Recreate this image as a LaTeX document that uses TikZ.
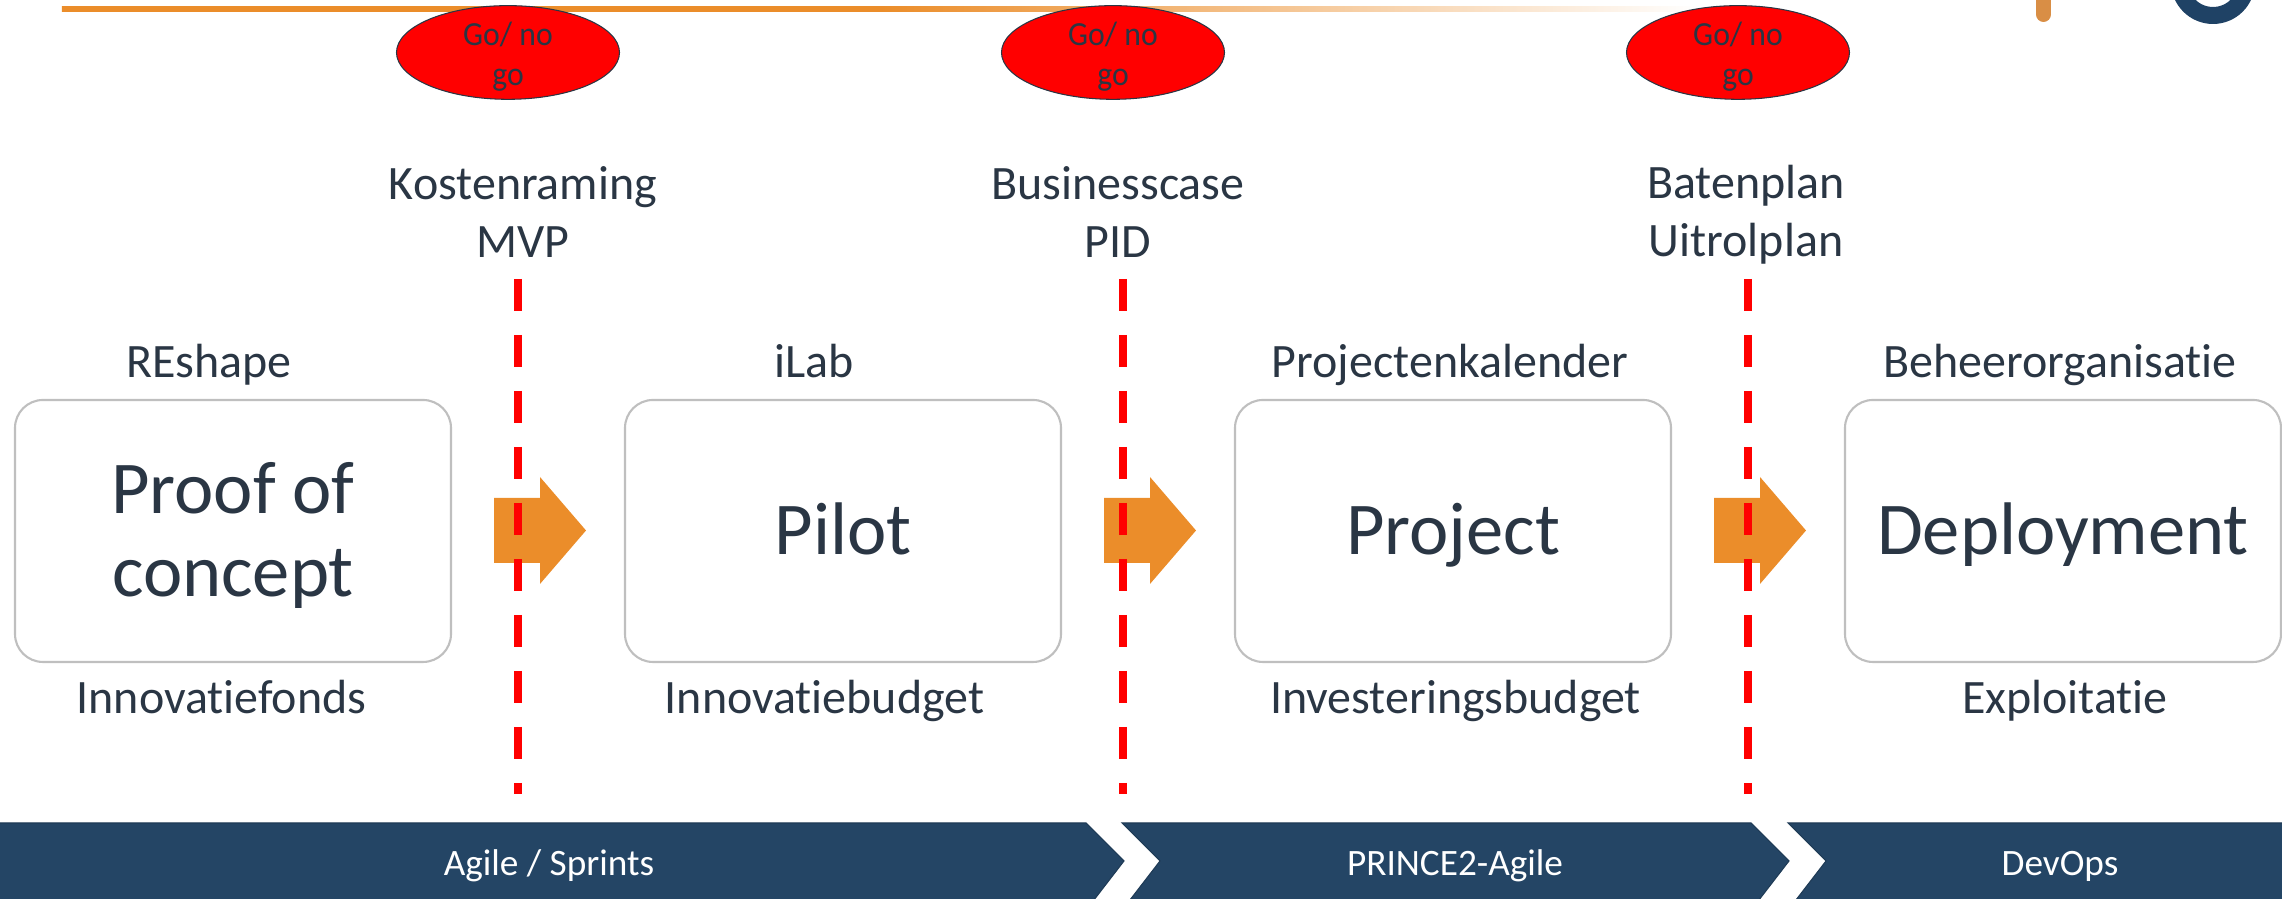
\documentclass[tikz,border=0pt]{standalone}
\usepackage{fontspec}
\setmainfont[Ligatures=NoCommon]{Carlito}
\newfontfamily\gatefont[Ligatures=NoCommon,FakeStretch=0.94]{Carlito}
\usepackage{tikz}
\usetikzlibrary{shapes.geometric}
\definecolor{textdark}{HTML}{2A3644}
\definecolor{lineorange}{HTML}{EB8D2A}
\definecolor{barblue}{HTML}{244565}
\definecolor{boxgray}{HTML}{BFBFBF}
\definecolor{logoorange}{HTML}{D98E45}
\definecolor{logoblue}{HTML}{1F4265}
\pgfdeclarehorizontalshading{topfade}{100bp}{color(0bp)=(lineorange); color(25bp)=(lineorange); color(50bp)=(lineorange); color(75bp)=(white); color(100bp)=(white)}

\begin{document}
\begin{tikzpicture}
[phasebox/.style={draw=boxgray,line width=0.6pt,fill=white,rounded corners=0.28cm,minimum width=4.36cm,minimum height=2.62cm,inner sep=0pt,align=center,text=textdark,font=\fontsize{21.2}{23.6}\selectfont},
onelinebox/.style={phasebox,text height=17pt,text depth=3.6pt},
smalltext/.style={text=textdark,anchor=base,inner sep=0pt,font=\fontsize{13.65}{16.2}\selectfont},
doctext/.style={text=textdark,inner sep=0pt,align=center,font=\fontsize{13.65}{16.4}\selectfont},
gatenode/.style={ellipse,draw=textdark,line width=0.3pt,fill=red,minimum width=2.23cm,minimum height=0.91cm,inner sep=-1.5pt,align=center,text=textdark,font=\gatefont\fontsize{9.6}{11.2}\selectfont},
bartext/.style={text=white,inner sep=0pt,font=\fontsize{10.6}{12}\selectfont},
orangearrow/.style={fill=lineorange},
redline/.style={red,line width=0.08cm,dash pattern=on 0.32cm off 0.24cm},
barshape/.style={fill=barblue,draw=barblue!85!black,line width=0.3pt}]

\clip (0,0) rectangle (22.82,8.99);

% top line
\shade[shading=topfade] (0.62,8.87) rectangle (17,8.92);

% logo
\draw[logoorange,line width=0.15cm,line cap=round] (20.435,9.2) -- (20.435,8.845);
\draw[logoblue,line width=0.17cm] (22.13,9.17) circle (0.335);

% go / no go
\node[gatenode](gate1) at (5.08,8.465){\rule{0pt}{9pt}Go/ no\\go};
\node[gatenode](gate2) at (11.13,8.465){\rule{0pt}{9pt}Go/ no\\go};
\node[gatenode](gate3) at (17.38,8.465){\rule{0pt}{9pt}Go/ no\\go};

% documents
\node[doctext](docs1) at (5.23,6.87){Kostenraming\\MVP};
\node[doctext](docs2) at (11.18,6.87){Businesscase\\PID};
\node[doctext](docs3) at (17.46,6.845){Batenplan\\Uitrolplan};

% phases
\node[phasebox](poc) at (2.33,3.68){\rule{0pt}{17pt}Proof of\\concept};
\node[onelinebox](pilot) at (8.43,3.68){Pilot};
\node[onelinebox](project) at (14.53,3.68){Project};
\node[onelinebox](deployment) at (20.63,3.68){Deployment};

% arrows
\fill[orangearrow] (4.94,4.01) -- (5.40,4.01) -- (5.40,4.22) -- (5.86,3.685) -- (5.40,3.15) -- (5.40,3.36) -- (4.94,3.36) -- cycle;
\fill[orangearrow] (11.04,4.01) -- (11.50,4.01) -- (11.50,4.22) -- (11.96,3.685) -- (11.50,3.15) -- (11.50,3.36) -- (11.04,3.36) -- cycle;
\fill[orangearrow] (17.14,4.01) -- (17.60,4.01) -- (17.60,4.22) -- (18.06,3.685) -- (17.60,3.15) -- (17.60,3.36) -- (17.14,3.36) -- cycle;

% red lines
\coordinate (line1top) at (5.18,6.20);
\coordinate (line1end) at (5.18,1.05);
\coordinate (line2top) at (11.23,6.20);
\coordinate (line2end) at (11.23,1.05);
\coordinate (line3top) at (17.48,6.20);
\coordinate (line3end) at (17.48,1.05);
\draw[redline] (line1top) -- (line1end);
\draw[redline] (line2top) -- (line2end);
\draw[redline] (line3top) -- (line3end);

% owners
\node[smalltext](owner1) at (2.09,5.21){REshape};
\node[smalltext](owner2) at (8.14,5.21){iLab};
\node[smalltext](owner3) at (14.50,5.21){Projectenkalender};
\node[smalltext](owner4) at (20.60,5.21){Beheerorganisatie};

% budgets
\node[smalltext](budget1) at (2.215,1.85){Innovatiefonds};
\node[smalltext](budget2) at (8.245,1.85){Innovatiebudget};
\node[smalltext](budget3) at (14.555,1.85){Investeringsbudget};
\node[smalltext](budget4) at (20.65,1.85){Exploitatie};

% bar
\filldraw[barshape] (-0.1,0.76) -- (10.86,0.76) -- (11.24,0.38) -- (10.87,-0.1) -- (-0.1,-0.1) -- cycle;
\filldraw[barshape] (11.22,0.76) -- (17.51,0.76) -- (17.89,0.38) -- (17.52,-0.1) -- (11.23,-0.1) -- (11.60,0.38) -- cycle;
\filldraw[barshape] (17.88,0.76) -- (22.92,0.76) -- (22.92,-0.1) -- (17.89,-0.1) -- (18.26,0.38) -- cycle;
\node[bartext](agile) at (5.49,0.33){Agile / Sprints};
\node[bartext](prince) at (14.55,0.33){PRINCE2-Agile};
\node[bartext](devops) at (20.60,0.33){DevOps};

\end{tikzpicture}
\end{document}
